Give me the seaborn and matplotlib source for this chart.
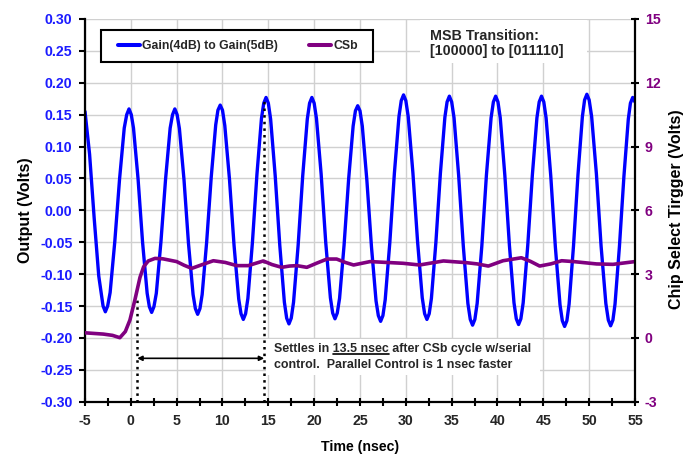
import matplotlib
matplotlib.use("Agg")
import matplotlib.pyplot as plt
import seaborn as sns
import pandas as pd
from matplotlib.patches import Rectangle
from matplotlib.lines import Line2D
from matplotlib.ticker import MultipleLocator, FormatStrFormatter

# Gain(4dB) -> Gain(5dB) output, volts
gain_t = [-5.0, -4.5, -4.0, -3.5, -3.03, -2.78, -2.53, -2.26, -1.75, -1.23, -0.72, -0.45, -0.2, 0.05,
          0.29, 0.79, 1.28, 1.78, 2.02, 2.27, 2.52, 2.78, 3.28, 3.79, 4.29, 4.55, 4.8, 5.05,
          5.3, 5.8, 6.29, 6.79, 7.04, 7.29, 7.54, 7.78, 8.27, 8.77, 9.26, 9.5, 9.75, 10.0,
          10.25, 10.76, 11.26, 11.77, 12.02, 12.27, 12.52, 12.77, 13.26, 13.76, 14.25, 14.5, 14.75, 15.0,
          15.25, 15.75, 16.25, 16.75, 17.0, 17.25, 17.5, 17.75, 18.25, 18.75, 19.25, 19.5, 19.75, 20.0,
          20.25, 20.76, 21.26, 21.77, 22.02, 22.27, 22.52, 22.77, 23.26, 23.76, 24.25, 24.5, 24.75, 25.0,
          25.25, 25.75, 26.25, 26.75, 27.0, 27.25, 27.5, 27.75, 28.25, 28.75, 29.25, 29.5, 29.75, 30.0,
          30.26, 30.77, 31.28, 31.79, 32.05, 32.3, 32.55, 32.79, 33.28, 33.77, 34.26, 34.5, 34.75, 35.0,
          35.26, 35.76, 36.27, 36.77, 37.03, 37.28, 37.53, 37.78, 38.29, 38.79, 39.3, 39.55, 39.8, 40.05,
          40.3, 40.8, 41.3, 41.8, 42.05, 42.3, 42.55, 42.8, 43.3, 43.8, 44.3, 44.55, 44.8, 45.05,
          45.3, 45.81, 46.31, 46.82, 47.07, 47.32, 47.57, 47.81, 48.29, 48.78, 49.26, 49.5, 49.75, 50.0,
          50.27, 50.79, 51.3, 51.82, 52.09, 52.34, 52.59, 52.82, 53.3, 53.79, 54.27, 54.5, 54.75, 55.0]
gain_v = [0.155, 0.088, -0.012, -0.103, -0.150, -0.159, -0.150, -0.129, -0.049, 0.049, 0.129, 0.150, 0.159, 0.150,
          0.129, 0.049, -0.050, -0.130, -0.151, -0.160, -0.151, -0.130, -0.050, 0.049, 0.129, 0.150, 0.159, 0.150,
          0.128, 0.048, -0.052, -0.132, -0.154, -0.163, -0.154, -0.132, -0.050, 0.052, 0.134, 0.157, 0.165, 0.157,
          0.133, 0.049, -0.055, -0.139, -0.162, -0.171, -0.162, -0.138, -0.051, 0.057, 0.144, 0.168, 0.177, 0.168,
          0.143, 0.054, -0.055, -0.144, -0.169, -0.178, -0.169, -0.144, -0.055, 0.054, 0.143, 0.168, 0.177, 0.168,
          0.144, 0.057, -0.050, -0.137, -0.161, -0.170, -0.161, -0.138, -0.055, 0.049, 0.132, 0.156, 0.164, 0.156,
          0.132, 0.047, -0.057, -0.142, -0.165, -0.174, -0.165, -0.140, -0.051, 0.058, 0.147, 0.172, 0.181, 0.172,
          0.147, 0.059, -0.049, -0.137, -0.162, -0.171, -0.162, -0.138, -0.050, 0.058, 0.146, 0.170, 0.179, 0.170,
          0.145, 0.055, -0.056, -0.146, -0.171, -0.180, -0.171, -0.146, -0.056, 0.055, 0.145, 0.170, 0.179, 0.170,
          0.145, 0.055, -0.055, -0.145, -0.170, -0.179, -0.170, -0.145, -0.055, 0.055, 0.145, 0.170, 0.179, 0.170,
          0.145, 0.054, -0.057, -0.148, -0.173, -0.182, -0.173, -0.147, -0.056, 0.056, 0.147, 0.173, 0.182, 0.173,
          0.147, 0.057, -0.056, -0.146, -0.172, -0.181, -0.172, -0.147, -0.057, 0.053, 0.143, 0.168, 0.177, 0.170]

# CSb chip select trigger, volts (right axis)
csb_t = [-5.0, -4.0, -3.0, -2.0, -1.2, -0.6, -0.1, 0.45, 1.0, 1.4, 1.9, 2.64, 3.5, 5.0, 5.8, 6.64,
         7.8, 9.0, 10.3, 11.55, 12.8, 14.45, 15.4, 16.45, 17.3, 18.1, 19.2, 20.3, 21.4, 22.45, 23.4,
         24.3, 26.1, 27.9, 29.7, 31.5, 34.1, 36.6, 37.8, 39.0, 40.6, 42.6, 43.6, 44.6, 45.8, 47.0,
         48.3, 50.8, 52.6, 55.0]
csb_v = [0.24, 0.21, 0.18, 0.12, 0.01, 0.30, 0.84, 1.80, 2.85, 3.35, 3.62, 3.74, 3.72, 3.59, 3.42, 3.27,
         3.45, 3.63, 3.55, 3.40, 3.40, 3.62, 3.45, 3.32, 3.38, 3.40, 3.32, 3.52, 3.71, 3.71, 3.55,
         3.43, 3.59, 3.55, 3.51, 3.43, 3.62, 3.54, 3.48, 3.38, 3.63, 3.77, 3.60, 3.38, 3.48, 3.63,
         3.59, 3.48, 3.46, 3.59]

series_labels = ["Gain(4dB) to Gain(5dB)", "CSb"]
settle_start, settle_end = 0.7, 14.55
settle_start_top, settle_end_top = -0.135, 0.175
arrow_level = -0.232

left_ticks = [-0.30, -0.25, -0.20, -0.15, -0.10, -0.05, 0.00, 0.05, 0.10, 0.15, 0.20, 0.25, 0.30]
right_ticks = [-3, 0, 3, 6, 9, 12, 15]
x_ticks = [-5, 0, 5, 10, 15, 20, 25, 30, 35, 40, 45, 50, 55]

BLUE = "#0000ff"
PURPLE = "#800080"
TICK_BLUE = "#1c1cff"

sns.set_style("white")
plt.rcParams["font.family"] = ["Liberation Sans", "DejaVu Sans"]
plt.rcParams["font.weight"] = "bold"
plt.rcParams["axes.unicode_minus"] = False

fig = plt.figure(figsize=(6.99, 4.54), dpi=100)
ax = fig.add_axes([85 / 699, 1 - 401.7 / 454, 550 / 699, 382.7 / 454])
ax2 = ax.twinx()

gain = pd.DataFrame({"t": gain_t, "v": gain_v})
csb = pd.DataFrame({"t": csb_t, "v": csb_v})
sns.lineplot(data=gain, x="t", y="v", ax=ax, color=BLUE, linewidth=2.4, errorbar=None,
             legend=False, solid_joinstyle="round")
sns.lineplot(data=csb, x="t", y="v", ax=ax2, color=PURPLE, linewidth=2.6, errorbar=None,
             legend=False, solid_joinstyle="round")

ax.set_xlim(-5, 55)
ax.set_ylim(-0.30, 0.30)
ax2.set_ylim(-3, 15)
ax.set_xticks(x_ticks)
ax.xaxis.set_minor_locator(MultipleLocator(2.5))
ax.set_yticks(left_ticks)
ax.yaxis.set_major_formatter(FormatStrFormatter("%.2f"))
ax2.set_yticks(right_ticks)

ax.set_axisbelow(True)
ax.grid(True, which="major", color="#d0d0d0", linewidth=1.0)

for s in ["top", "right"]:
    ax.spines[s].set_visible(False)
for s in ["top", "left", "bottom"]:
    ax2.spines[s].set_visible(False)
for sp in [ax.spines["left"], ax.spines["bottom"], ax2.spines["right"]]:
    sp.set_color("black")
    sp.set_linewidth(1.6)

ax.tick_params(axis="x", which="both", direction="inout", length=6, width=1.5, color="black",
               labelsize=10.2, pad=6, bottom=True)
ax.tick_params(axis="y", direction="out", length=4.5, width=1.5, color="black",
               labelsize=10.2, labelcolor=TICK_BLUE, pad=4.5, left=True)
ax2.tick_params(axis="y", direction="inout", length=6, width=1.5, color="black",
                labelsize=10.2, labelcolor=PURPLE, pad=4, right=True)

ax.set_xlabel("Time (nsec)", fontsize=10.2, fontweight="bold", color="black")
ax.set_ylabel("Output (Volts)", fontsize=11.5, fontweight="bold", color="black")
ax2.set_ylabel("Chip Select Tirgger (Volts)", fontsize=11.5, fontweight="bold", color="black")
ax.xaxis.set_label_coords(0.5, -0.1)
ax.yaxis.set_label_coords(-0.094, 0.5)
ax2.yaxis.set_label_coords(1.0615, 0.5035)

# settling markers
ax.vlines([settle_start], -0.30, settle_start_top, colors="black", linestyles=":", linewidth=1.8, zorder=3)
ax.vlines([settle_end], -0.30, settle_end_top, colors="black", linestyles=":", linewidth=1.8, zorder=3)
ax.annotate("", xy=(settle_start, arrow_level), xytext=(settle_end, arrow_level),
            arrowprops=dict(arrowstyle="<|-|>", color="black", lw=1.2, mutation_scale=7,
                            shrinkA=0, shrinkB=0), zorder=3)

# annotation boxes
ax.add_patch(Rectangle((14.75, -0.258), 29.9, 0.056, facecolor="white", edgecolor="none", zorder=2.5))
ax.add_patch(Rectangle((31.55, 0.231), 18.2, 0.0674, facecolor="white", edgecolor="none", zorder=2.5))

fs_note = 8.9
line1 = "Settles in 13.5 nsec after CSb cycle w/serial"
t1 = ax.text(15.62, -0.2221, line1, fontsize=fs_note, fontweight="bold", va="baseline", zorder=4)
ax.text(15.62, -0.2467, "control.  Parallel Control is 1 nsec faster", fontsize=fs_note,
        fontweight="bold", va="baseline", zorder=4)

ax.text(32.64, 0.267, "MSB Transition:", fontsize=10.3, fontweight="bold", va="baseline", zorder=4)
ax.text(32.64, 0.2436, "[100000] to [011110]", fontsize=10.3, fontweight="bold", va="baseline", zorder=4)

# underline "13.5 nsec"
fig.canvas.draw()
renderer = fig.canvas.get_renderer()


def text_width(s):
    tmp = ax.text(0, 0, s, fontsize=fs_note, fontweight="bold")
    w = tmp.get_window_extent(renderer).width
    tmp.remove()
    return w


bb = t1.get_window_extent(renderer)
w_a = text_width("Settles in 13.5 nsec")
w_b = text_width("13.5 nsec")
x0 = bb.x0 + w_a - w_b
x1 = bb.x0 + w_a
base_px = ax.transData.transform((15.62, -0.2221))[1] - 2.0
inv = fig.transFigure.inverted()
(fx0, fy), (fx1, _) = inv.transform([(x0, base_px), (x1, base_px)])
fig.add_artist(Line2D([fx0, fx1], [fy, fy], color="black", linewidth=1.2))

# legend: frame drawn separately so the inner padding can match the original
ax2.add_patch(Rectangle((16 / 550, 1 - 43 / 382.7), 272 / 550, 32 / 382.7, transform=ax2.transAxes,
                        facecolor="white", edgecolor="black", linewidth=1.5, zorder=5))
handles = [Line2D([], [], color=BLUE, linewidth=2.9), Line2D([], [], color=PURPLE, linewidth=2.9)]
leg = ax2.legend(handles, series_labels, loc="center left", bbox_to_anchor=(32.7 / 550, 1 - 27 / 382.7),
                 ncol=2, borderaxespad=0, borderpad=0, frameon=False,
                 prop={"weight": "bold", "size": 8.8}, handlelength=1.8, handletextpad=0.2,
                 columnspacing=2.5)
leg.set_zorder(6)

fig.savefig("out.png", dpi=100)
